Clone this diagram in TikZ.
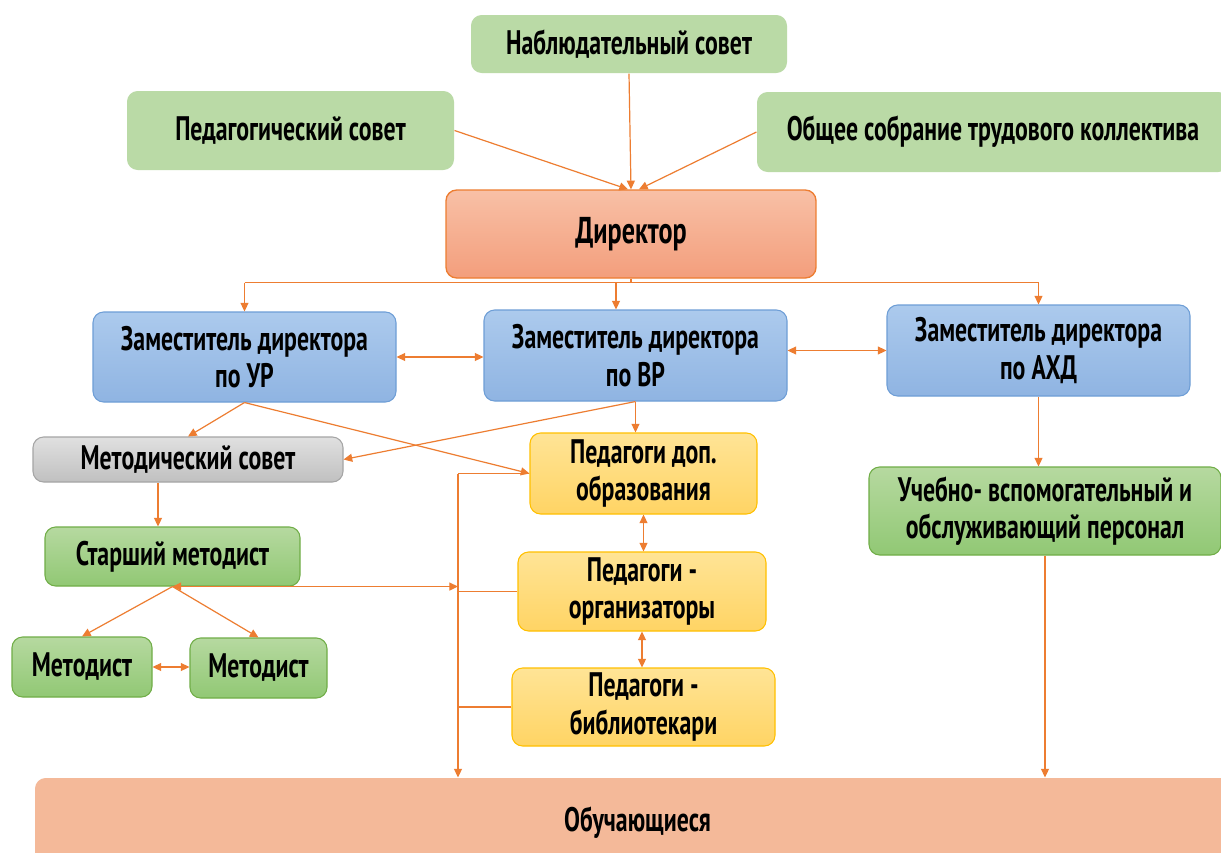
\documentclass[tikz,border=0pt]{standalone}
\usepackage{fontspec}
\setmainfont{PT Sans}[FakeStretch=0.7]
\usetikzlibrary{arrows.meta,calc}
\definecolor{lgreen}{RGB}{186,218,166}
\definecolor{dirTop}{RGB}{248,192,166}
\definecolor{dirBot}{RGB}{243,158,124}
\definecolor{dirLine}{RGB}{237,125,49}
\definecolor{bTop}{RGB}{172,202,237}
\definecolor{bBot}{RGB}{143,180,226}
\definecolor{bLine}{RGB}{110,158,214}
\definecolor{gTop}{RGB}{224,224,224}
\definecolor{gBot}{RGB}{192,192,192}
\definecolor{gLine}{RGB}{165,165,165}
\definecolor{yTop}{RGB}{255,228,150}
\definecolor{yBot}{RGB}{255,212,100}
\definecolor{yLine}{RGB}{255,192,0}
\definecolor{grTop}{RGB}{182,217,160}
\definecolor{grBot}{RGB}{145,200,116}
\definecolor{grLine}{RGB}{112,173,71}
\definecolor{obFill}{RGB}{244,185,153}
\definecolor{arrc}{RGB}{237,125,49}
\tikzset{
  box/.style={rounded corners=8pt, align=center, inner sep=2pt, line width=0.8pt,
    font=\bfseries\fontsize{25.5}{28}\selectfont},
  lightgreen/.style={box, fill=lgreen, draw=none},
  dirbox/.style={box, top color=dirTop, bottom color=dirBot, draw=dirLine, line width=1pt,
    font=\bfseries\fontsize{28}{30}\selectfont},
  bluebox/.style={box, top color=bTop, bottom color=bBot, draw=bLine},
  graybox/.style={box, top color=gTop, bottom color=gBot, draw=gLine},
  yellowbox/.style={box, top color=yTop, bottom color=yBot, draw=yLine},
  greenbox/.style={box, top color=grTop, bottom color=grBot, draw=grLine},
  obbox/.style={box, fill=obFill, draw=none},
  conn/.style={draw=arrc, line width=0.9pt},
  arr/.style={conn, -{Triangle[length=6.5pt,width=6pt]}},
  darr/.style={conn, {Triangle[length=6.5pt,width=6pt]}-{Triangle[length=6.5pt,width=6pt]}}
}
\newcommand\bx[7]{\node[#6, minimum width={(#4-#2)*0.75pt}, minimum height={(#5-#3)*0.75pt}] (#1) at ({(#2+#4)/2},{(#3+#5)/2}) {#7};}
\begin{document}
\begin{tikzpicture}[x=0.75pt,y=-0.75pt]
\clip (0,0) rectangle (1221,853);
\fill[white] (0,0) rectangle (1221,853);
% nodes
\bx{nab}{471}{15}{787}{73}{lightgreen}{Наблюдательный совет}
\bx{ped}{127}{91}{454}{170}{lightgreen}{Педагогический совет}
\bx{ob}{757}{92}{1229}{172}{lightgreen}{Общее собрание трудового коллектива}
\bx{dir}{446}{190}{816}{278}{dirbox}{Директор}
\bx{zur}{93}{312}{396}{402}{bluebox}{Заместитель директора\\по УР}
\bx{zvr}{484}{310}{787}{401}{bluebox}{Заместитель директора\\по ВР}
\bx{zah}{887}{305}{1190}{396}{bluebox}{Заместитель директора\\по АХД}
\bx{metsov}{33}{437}{343}{482}{graybox}{Методический совет}
\bx{pdop}{530}{433}{757}{514}{yellowbox}{Педагоги доп.\\образования}
\bx{porg}{518}{552}{766}{631}{yellowbox}{Педагоги -\\организаторы}
\bx{pbib}{512}{668}{775}{746}{yellowbox}{Педагоги -\\библиотекари}
\bx{ucheb}{869}{467}{1221}{555}{greenbox}{Учебно- вспомогательный и\\обслуживающий персонал}
\bx{smet}{45}{527}{300}{586}{greenbox}{Старший методист}
\bx{met1}{12}{637}{152}{697}{greenbox}{Методист}
\bx{met2}{190}{638}{327}{698}{greenbox}{Методист}
\bx{obuch}{35}{778}{1240}{868}{obbox}{Обучающиеся}
% top connectors
\draw[arr] (ped.east) -- ($(dir.north)+(-3,0)$);
\draw[arr] (nab.south) -- (dir.north);
\draw[arr] (ob.west) -- ($(dir.north)+(8,0)$);
% director bus
\coordinate (dbus) at ($(dir.south)+(0,4)$);
\coordinate (bvr) at (616,0);
\draw[conn] (dbus -| zur.north) -- (dbus -| zah.north);
\draw[conn] (dir.south) -- (dbus);
\draw[arr] (dbus -| zur.north) -- (zur.north);
\draw[arr] (dbus -| bvr) -- (bvr |- zvr.north);
\draw[arr] (dbus -| zah.north) -- (zah.north);
% deputies
\draw[darr] (zur.east) -- (zur.east -| zvr.west);
\draw[darr] (zah.west -| zvr.east) -- (zah.west);
\draw[arr] (zur.south) -- (metsov.north);
\draw[arr] (zur.south) -- (pdop.west);
\draw[arr] (zvr.south) -- (metsov.east);
\draw[arr] (zvr.south) -- (zvr.south |- pdop.north);
% methodists
\coordinate (mx) at (158,0);
\draw[arr] (mx |- metsov.south) -- (mx |- smet.north);
\draw[arr] (smet.south) -- (met1.north);
\draw[arr] (smet.south) -- (met2.north);
\draw[darr] (met1.east) -- (met1.east -| met2.west);
% pedagogues bus
\coordinate (bx) at (458,0);
\draw[conn] (pdop.west) -- (pdop.west -| bx);
\draw[arr] (pdop.west -| bx) -- (bx |- obuch.north);
\draw[conn] (porg.west) -- (porg.west -| bx);
\draw[conn] (pbib.west) -- (pbib.west -| bx);
\draw[darr] (smet.south) -- (smet.south -| bx);
\draw[darr] (pdop.south) -- (pdop.south |- porg.north);
\draw[darr] (porg.south) -- (porg.south |- pbib.north);
% AXD
\draw[arr] (zah.south) -- (zah.south |- ucheb.north);
\draw[arr] (ucheb.south) -- (ucheb.south |- obuch.north);
\end{tikzpicture}
\end{document}
